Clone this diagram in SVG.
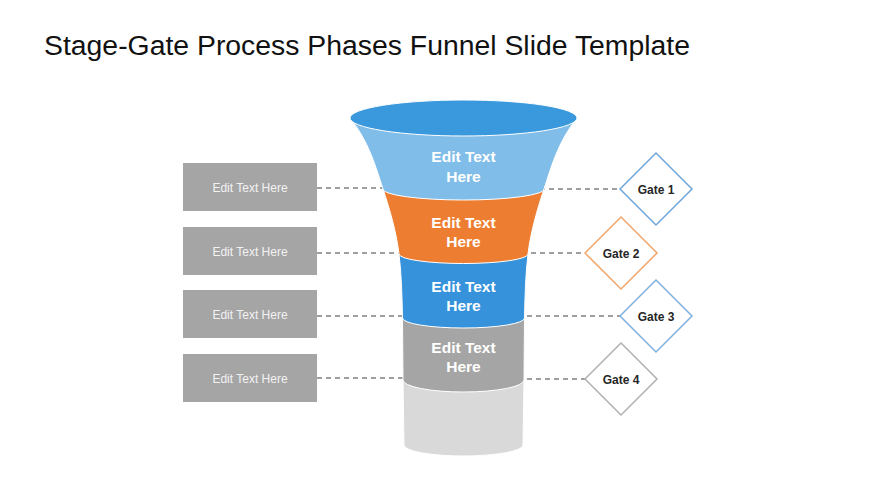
<svg xmlns="http://www.w3.org/2000/svg" width="870" height="489" viewBox="0 0 870 489">
<style>
.title{font-family:"Liberation Sans",Arial,sans-serif;font-size:27px;fill:#111111}
.box{fill:#a5a5a5}
.btxt{font-family:"Liberation Sans",Arial,sans-serif;font-size:12px;fill:#f2f2f2;text-anchor:middle}
.ftxt{font-family:"Liberation Sans",Arial,sans-serif;font-size:15.5px;font-weight:bold;fill:#ffffff;text-anchor:middle}
.gtxt{font-family:"Liberation Sans",Arial,sans-serif;font-size:12px;font-weight:bold;fill:#262626;text-anchor:middle}
.gate{fill:#ffffff;stroke-width:1.5}
.dash{stroke:#404040;stroke-width:1.2;stroke-dasharray:5 4;fill:none}
.seg{stroke:#ffffff;stroke-width:1}
</style>
<rect width="870" height="489" fill="#ffffff"/>
<text class="title" x="44" y="55" textLength="646" lengthAdjust="spacingAndGlyphs">Stage-Gate Process Phases Funnel Slide Template</text>

<g id="connectors">
<line class="dash" x1="317" y1="188" x2="390" y2="188"/>
<line class="dash" x1="317" y1="253" x2="405" y2="253"/>
<line class="dash" x1="317" y1="316" x2="410" y2="316"/>
<line class="dash" x1="317" y1="378" x2="410" y2="378"/>
<line class="dash" x1="540" y1="189" x2="620" y2="189"/>
<line class="dash" x1="522" y1="253" x2="585" y2="253"/>
<line class="dash" x1="518" y1="316" x2="620" y2="316"/>
<line class="dash" x1="518" y1="379" x2="585" y2="379"/>
</g>

<g id="box1"><rect class="box" x="183" y="163" width="134" height="48"/><text class="btxt" x="250" y="192">Edit Text Here</text></g>
<g id="box2"><rect class="box" x="183" y="227" width="134" height="48"/><text class="btxt" x="250" y="256">Edit Text Here</text></g>
<g id="box3"><rect class="box" x="183" y="290" width="134" height="48"/><text class="btxt" x="250" y="319">Edit Text Here</text></g>
<g id="box4"><rect class="box" x="183" y="354" width="134" height="48"/><text class="btxt" x="250" y="383">Edit Text Here</text></g>

<g id="funnel-base">
<path class="seg" fill="#d9d9d9" d="M403,380 L404,445 A59.5,11 0 0 0 523,445 L524,380 Z"/>
</g>
<g id="stage4">
<path class="seg" fill="#a5a5a5" d="M402.5,318 L403,380 A60.5,12 0 0 0 524,380 L524.5,318 Z"/>
<text class="ftxt" x="463.5" y="353">Edit Text</text>
<text class="ftxt" x="463.5" y="372">Here</text>
</g>
<g id="stage3">
<path class="seg" fill="#3592db" d="M399,254 C401.6,275.3 402,296.7 402.5,318 A61,10 0 0 0 524.5,318 C525,296.7 525.4,275.3 528,254 Z"/>
<text class="ftxt" x="463.5" y="292">Edit Text</text>
<text class="ftxt" x="463.5" y="311">Here</text>
</g>
<g id="stage2">
<path class="seg" fill="#ed7d31" d="M383,189 C390.2,210.7 396.4,232.3 399,254 A64.5,9.5 0 0 0 528,254 C530.6,232.3 536.8,210.7 544,189 Z"/>
<text class="ftxt" x="463.5" y="228">Edit Text</text>
<text class="ftxt" x="463.5" y="247">Here</text>
</g>
<g id="stage1">
<path class="seg" fill="#80bde8" d="M350,118 C368.9,141.7 375.2,165.3 383,189 A80.5,11 0 0 0 544,189 C551.8,165.3 558.1,141.7 577,118 Z"/>
<ellipse cx="463.5" cy="118" rx="113.5" ry="18" fill="#3a98dc" stroke="#ffffff" stroke-width="1"/>
<text class="ftxt" x="463.5" y="162">Edit Text</text>
<text class="ftxt" x="463.5" y="182">Here</text>
</g>

<g id="gate1"><polygon class="gate" stroke="#6ea6d8" points="620,189 656,153 692,189 656,225"/><text class="gtxt" x="656" y="193.5">Gate 1</text></g>
<g id="gate2"><polygon class="gate" stroke="#f0a56b" points="585,253 621,217 657,253 621,289"/><text class="gtxt" x="621" y="257.5">Gate 2</text></g>
<g id="gate3"><polygon class="gate" stroke="#7eb0de" points="620,316 656,280 692,316 656,352"/><text class="gtxt" x="656" y="320.5">Gate 3</text></g>
<g id="gate4"><polygon class="gate" stroke="#b0b0b0" points="585,379 621,343 657,379 621,415"/><text class="gtxt" x="621" y="383.5">Gate 4</text></g>
</svg>
